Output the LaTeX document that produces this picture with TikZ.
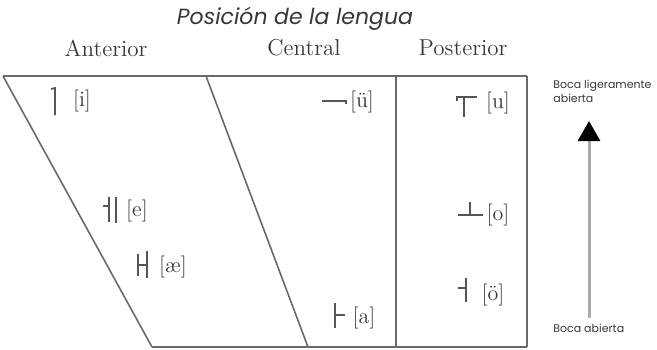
\documentclass[tikz,border=0pt]{standalone}
\usepackage{fontspec}
\usepackage{tikz}
\usetikzlibrary{arrows.meta}
\newfontfamily\geo{Poppins}
\definecolor{linea}{RGB}{105,105,105}
\definecolor{texto}{RGB}{55,55,55}
\definecolor{flecha}{RGB}{170,170,170}
\tikzset{
  borde/.style={draw=linea,line width=0.8pt},
  tono/.style ={draw=texto!85,line width=0.9pt},
  vocal/.style={inner sep=0pt,text=texto,font=\fontsize{11}{13}\selectfont},
  cab/.style  ={inner sep=0pt,text=texto,font=\fontsize{11.5}{14}\selectfont},
  titulo/.style={inner sep=0pt,text=texto,font=\geo\itshape\fontsize{11}{13}\selectfont},
  nota/.style ={inner sep=0pt,anchor=west,align=left,text=texto,font=\geo\fontsize{5.5}{7}\selectfont},
  ar/.style={-{Triangle[length=10pt,width=11pt,color=black]},draw=flecha,line width=1.5pt},
}
\begin{document}
\begin{tikzpicture}[x=0.5pt,y=-0.5pt]
  \useasboundingbox (0,0) rectangle (657,349);
  % cabeceras
  \node[titulo] (tit) at (295,19){Posición de la lengua};
  \node[cab] (ant) at (106,48){Anterior};
  \node[cab] (cen) at (304,48){Central};
  \node[cab] (pos) at (463,48){Posterior};
  % marco
  \coordinate (si) at (3,76);   \coordinate (sd) at (527,76);
  \coordinate (ii) at (152,347); \coordinate (id) at (527,347);
  \coordinate (cs) at (206,76); \coordinate (ci) at (308,347);
  \coordinate (ps) at (396,76); \coordinate (pi) at (396,347);
  \draw[borde] (si)--(sd); \draw[borde] (ii)--(id);
  \draw[borde] (si)--(ii); \draw[borde] (cs)--(ci);
  \draw[borde] (ps)--(pi); \draw[borde] (sd)--(id);
  % vocales
  \node[vocal] (i)  at (82,101){[i]};
  \node[vocal] (e)  at (137,211){[e]};
  \node[vocal] (ae) at (173,267){[æ]};
  \node[vocal] (uu) at (362,102){[ü]};
  \node[vocal] (a)  at (364,318){[a]};
  \node[vocal] (u)  at (498,103){[u]};
  \node[vocal] (o)  at (498,215){[o]};
  \node[vocal] (oo) at (493,295){[ö]};
  % marcas de tono
  \draw[tono] (51,89)--(55,88)--(55,115);
  \draw[tono] (103,206)--(109,206); \draw[tono] (109,197)--(109,222); \draw[tono] (116,197)--(116,223);
  \draw[tono] (138,254)--(138,276); \draw[tono] (138,265)--(147,265); \draw[tono] (147,251)--(147,278);
  \draw[tono] (322,101)--(346,101)--(346,104);
  \draw[tono] (457,101)--(457,97)--(477,97); \draw[tono] (464,97)--(464,117);
  \draw[tono] (458,215)--(483,215); \draw[tono] (470,202)--(470,215);
  \draw[tono] (458,288)--(466,288); \draw[tono] (466,278)--(466,302);
  \draw[tono] (335,303)--(335,328); \draw[tono] (335,315)--(345,315);
  % apertura
  \node[nota,anchor=north west] (arr) at (553,80){Boca ligeramente\\abierta};
  \node[nota] (abj) at (553,328){Boca abierta};
  \coordinate (pie) at (589,318);
  \coordinate (punta) at (589,121);
  \draw[ar] (pie)--(punta);
\end{tikzpicture}
\end{document}
